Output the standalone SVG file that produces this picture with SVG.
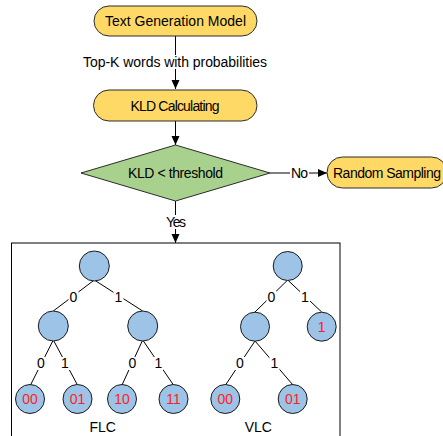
<svg xmlns="http://www.w3.org/2000/svg" width="443" height="436" viewBox="0 0 443 436">
<style>
  text { font-family: "Liberation Sans", Arial, sans-serif; fill: #000; }
  .t14 { font-size: 14px; text-anchor: middle; }
  .term { fill: #ffd966; stroke: #2b2b2b; stroke-width: 1; }
  .dec { fill: #a9d18e; stroke: #2b2b2b; stroke-width: 1; }
  .circ { fill: #9dc3e6; stroke: #1a1a1a; stroke-width: 1; }
  .leaf { font-size: 14px; text-anchor: middle; fill: #ff1f1f; }
  .edge { stroke: #000; stroke-width: 1; fill: none; }
  .lbl { font-size: 14px; text-anchor: middle; }
  .bg { fill: #fff; stroke: none; }
</style>
<defs>
  <marker id="arrow" markerWidth="10" markerHeight="10" refX="9" refY="5" orient="auto" markerUnits="userSpaceOnUse">
    <path d="M0,1 L9,5 L0,9 Z" fill="#000"/>
  </marker>
</defs>
<rect width="443" height="436" fill="#fff"/>

<g id="connectors">
  <line class="edge" x1="175.5" y1="36" x2="175.5" y2="89" marker-end="url(#arrow)"/>
  <rect class="bg" x="83" y="55" width="184" height="14"/>
  <text class="t14" x="175" y="67" textLength="184">Top-K words with probabilities</text>

  <line class="edge" x1="175.5" y1="121" x2="175.5" y2="145" marker-end="url(#arrow)"/>

  <line class="edge" x1="270" y1="173" x2="327" y2="173" marker-end="url(#arrow)"/>
  <rect class="bg" x="290" y="166" width="19" height="14"/>
  <text class="t14" x="299.5" y="178" textLength="17">No</text>

  <line class="edge" x1="175.5" y1="201" x2="175.5" y2="243" marker-end="url(#arrow)"/>
  <rect class="bg" x="165" y="215" width="22" height="14"/>
  <text class="t14" x="176" y="227" textLength="20">Yes</text>

  <!-- FLC tree edges -->
  <line class="edge" x1="94.3" y1="280" x2="53.3" y2="311"/>
  <line class="edge" x1="94.3" y1="280" x2="142.7" y2="311"/>
  <line class="edge" x1="53.3" y1="340" x2="30.5" y2="385"/>
  <line class="edge" x1="53.3" y1="340" x2="77.5" y2="385"/>
  <line class="edge" x1="142.7" y1="340" x2="122" y2="385"/>
  <line class="edge" x1="142.7" y1="340" x2="173.5" y2="385"/>
  <!-- VLC tree edges -->
  <line class="edge" x1="287.7" y1="280" x2="255" y2="312"/>
  <line class="edge" x1="287.7" y1="280" x2="321.7" y2="312"/>
  <line class="edge" x1="255" y1="341" x2="225.5" y2="385"/>
  <line class="edge" x1="255" y1="341" x2="293" y2="385"/>

  <!-- edge labels -->
  <g>
    <rect class="bg" x="68.5" y="290" width="10" height="13"/>
    <text class="lbl" x="73.5" y="301.5">0</text>
    <rect class="bg" x="113.5" y="290" width="10" height="13"/>
    <text class="lbl" x="118.5" y="301.5">1</text>
    <rect class="bg" x="36" y="357" width="10" height="13"/>
    <text class="lbl" x="41" y="368">0</text>
    <rect class="bg" x="60" y="357" width="10" height="13"/>
    <text class="lbl" x="65" y="368">1</text>
    <rect class="bg" x="127.5" y="357" width="10" height="13"/>
    <text class="lbl" x="132.5" y="368">0</text>
    <rect class="bg" x="153.5" y="357" width="10" height="13"/>
    <text class="lbl" x="158.5" y="368">1</text>
    <rect class="bg" x="266.5" y="291" width="10" height="13"/>
    <text class="lbl" x="271.5" y="302">0</text>
    <rect class="bg" x="300" y="291" width="10" height="13"/>
    <text class="lbl" x="305" y="302">1</text>
    <rect class="bg" x="235" y="357" width="10" height="13"/>
    <text class="lbl" x="240" y="368">0</text>
    <rect class="bg" x="269.5" y="357" width="10" height="13"/>
    <text class="lbl" x="274.5" y="368">1</text>
  </g>
</g>

<g id="text-generation-model">
  <rect class="term" x="94" y="6" width="163" height="30" rx="15"/>
  <text class="t14" x="175.5" y="26" textLength="141">Text Generation Model</text>
</g>

<g id="kld-calculating">
  <rect class="term" x="93.5" y="90" width="163.5" height="31" rx="15.5"/>
  <text class="t14" x="175" y="110.5" textLength="89">KLD Calculating</text>
</g>

<g id="kld-threshold">
  <polygon class="dec" points="81,173 175.5,145 270,173 175.5,201"/>
  <text class="t14" x="175.5" y="178" textLength="95">KLD &lt; threshold</text>
</g>

<g id="random-sampling">
  <rect class="term" x="327" y="157" width="120" height="31" rx="15.5"/>
  <text class="t14" x="387" y="177.5" textLength="108">Random Sampling</text>
</g>

<g id="coding-box">
  <rect x="11.5" y="243" width="328.5" height="210" fill="none" stroke="#000" stroke-width="1"/>
</g>

<g id="flc-tree">
  <circle class="circ" cx="94.3" cy="266" r="15"/>
  <circle class="circ" cx="53.3" cy="326" r="15"/>
  <circle class="circ" cx="142.7" cy="326" r="15"/>
  <g id="flc-00"><circle class="circ" cx="30" cy="399" r="14.5"/><text class="leaf" x="30" y="404">00</text></g>
  <g id="flc-01"><circle class="circ" cx="77.5" cy="399" r="14.5"/><text class="leaf" x="77.5" y="404">01</text></g>
  <g id="flc-10"><circle class="circ" cx="122" cy="399" r="14.5"/><text class="leaf" x="122" y="404">10</text></g>
  <g id="flc-11"><circle class="circ" cx="173.5" cy="399" r="14.5"/><text class="leaf" x="173.5" y="404">11</text></g>
  <text class="t14" x="102.7" y="431.5">FLC</text>
</g>

<g id="vlc-tree">
  <circle class="circ" cx="287.7" cy="266" r="14.5"/>
  <circle class="circ" cx="255" cy="326.7" r="14.5"/>
  <g id="vlc-1"><circle class="circ" cx="321.7" cy="326.7" r="14.5"/><text class="leaf" x="321.7" y="331.7">1</text></g>
  <g id="vlc-00"><circle class="circ" cx="225.3" cy="399" r="14.5"/><text class="leaf" x="225.3" y="404">00</text></g>
  <g id="vlc-01"><circle class="circ" cx="292.7" cy="399" r="14.5"/><text class="leaf" x="292.7" y="404">01</text></g>
  <text class="t14" x="258.3" y="431.5">VLC</text>
</g>
</svg>
